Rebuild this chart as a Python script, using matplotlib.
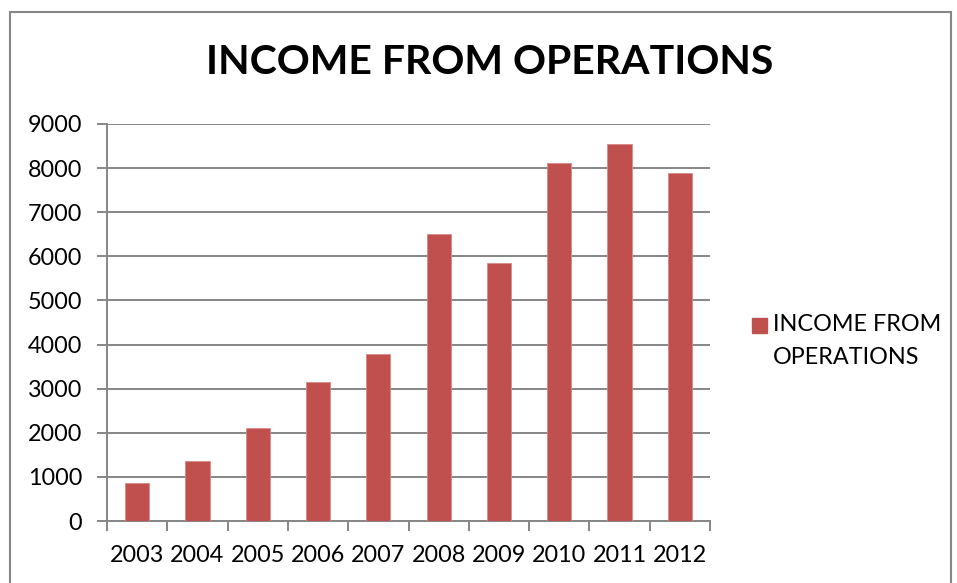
import matplotlib
matplotlib.use("Agg")
import matplotlib.pyplot as plt
from matplotlib.patches import Rectangle

years = ["2003", "2004", "2005", "2006", "2007", "2008", "2009", "2010", "2011", "2012"]
income = [870, 1355, 2105, 3160, 3775, 6505, 5845, 8125, 8550, 7895]
series_name = "INCOME FROM OPERATIONS"
title = "INCOME FROM OPERATIONS"
y_ticks = list(range(0, 9001, 1000))

bar_color = "#C0504D"
grid_color = "#868686"
font = "Lato"
label_size = 16.8

W, H = 957, 583
fig = plt.figure(figsize=(W / 100, H / 100), dpi=100)

# outer chart border
fig.patches.append(Rectangle((10 / W, -0.05), (951 - 10) / W, (H - 12) / H + 0.05,
                             transform=fig.transFigure, fill=False,
                             edgecolor=grid_color, linewidth=1.5))

ax = fig.add_axes([107 / W, 1 - 521 / H, (710 - 107) / W, (521 - 124) / H])

x = list(range(len(years)))
ax.bar(x, income, width=0.4, color=bar_color, edgecolor="#D88A88",
       linewidth=0.6, zorder=3)

ax.set_xlim(-0.5, len(years) - 0.5)
ax.set_ylim(0, 9000)
ax.set_yticks(y_ticks)
ax.set_yticklabels([str(v) for v in y_ticks], fontsize=label_size, family=font)
ax.yaxis.grid(True, color=grid_color, linewidth=1.4, zorder=0)

# years as labels, ticks at category boundaries
ax.set_xticks(x)
ax.set_xticklabels(years, fontsize=label_size, family=font)
ax.tick_params(axis="x", length=0, pad=17)
ax.set_xticks([i - 0.5 for i in range(len(years) + 1)], minor=True)
ax.tick_params(axis="x", which="minor", length=7, width=1.4, color=grid_color)
ax.tick_params(axis="y", length=7, width=1.4, color=grid_color, pad=11)

for side in ("top", "right"):
    ax.spines[side].set_visible(False)
for side in ("left", "bottom"):
    ax.spines[side].set_color(grid_color)
    ax.spines[side].set_linewidth(1.4)

fig.text(490 / W, 1 - 63 / H, title, ha="center", va="center",
         fontsize=29.5, fontweight="bold", family=font)

# legend
fig.patches.append(Rectangle((752 / W, 1 - 333 / H), 15 / W, 15 / H,
                             transform=fig.transFigure, color=bar_color))
fig.text(773 / W, 1 - 325 / H, "INCOME FROM", ha="left", va="center",
         fontsize=label_size, family=font)
fig.text(773 / W, 1 - 357 / H, "OPERATIONS", ha="left", va="center",
         fontsize=label_size, family=font)

fig.savefig("out.png", dpi=100)
